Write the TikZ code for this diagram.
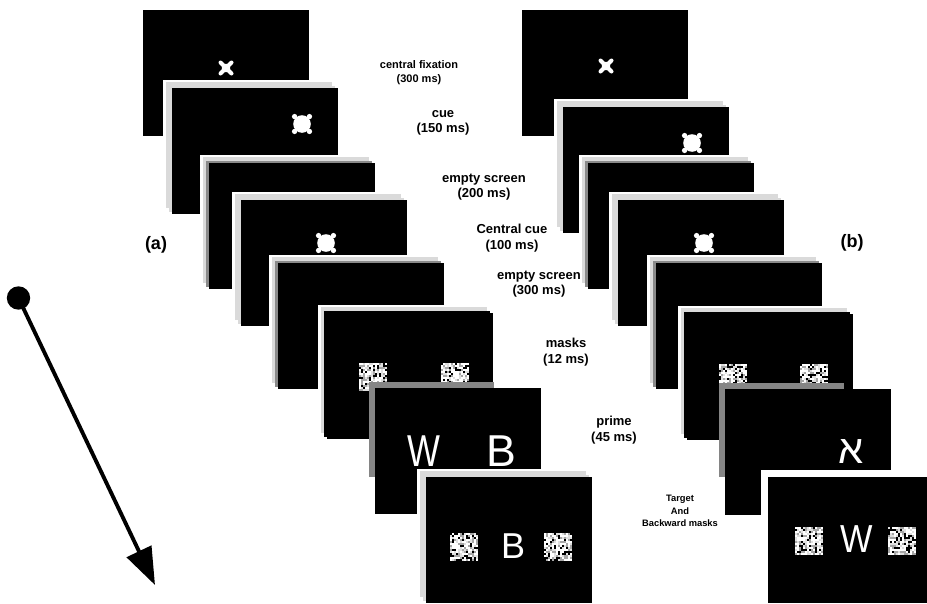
\documentclass[tikz,border=0pt]{standalone}
\usepackage{fontspec}
\setmainfont{Liberation Sans}
\newfontfamily\hebfont[Script=Hebrew]{Liberation Sans}
\usepackage{tikz}
\usetikzlibrary{arrows.meta, positioning}

\definecolor{framelt}{HTML}{DADADA}
\definecolor{framedk}{HTML}{8A8A8A}
\definecolor{primegray}{HTML}{858585}

\tikzset{
  screen/.style={fill=black, anchor=north west, inner sep=0pt,
                 minimum width=124.5pt, minimum height=94.5pt},
  steplabel/.style={font=\bfseries\fontsize{9.75}{11.5}\selectfont, align=center, inner sep=0pt},
  firstlabel/.style={font=\bfseries\fontsize{8.25}{10.5}\selectfont, align=center, inner sep=0pt},
  masklabel/.style={font=\bfseries\fontsize{7}{9.4}\selectfont, align=center, inner sep=0pt},
  panellabel/.style={font=\bfseries\fontsize{13.5}{15}\selectfont, inner sep=0pt},
  stimletter/.style={text=white, inner sep=0pt},
  startdot/.style={circle, fill=black, minimum size=17.5pt, inner sep=0pt},
  timearrow/.style={-{Triangle[length=28pt, width=20pt]}, line width=2.9pt},
}

% one display with its stacked frame (name, x, y, outer frame, inner frame)
\newcommand{\screen}[5]{%
  \fill[white] (#2-9,#3-8) rectangle ++(176,135);
  \fill[#4] (#2-6,#3-6) rectangle ++(166,126);
  \fill[#5] (#2-3,#3-2) rectangle ++(166,126);
  \node[screen] (#1) at (#2,#3) {};}

\newcommand{\fixcross}[2]{%
  \fill[white] (#1,#2) circle (3.2pt);
  \draw[white, line width=3pt, line cap=round]
    (#1-5.5,#2-5.5) -- (#1+5.5,#2+5.5) (#1-5.5,#2+5.5) -- (#1+5.5,#2-5.5);}

\newcommand{\cuedisc}[2]{%
  \fill[white] (#1,#2) circle (6.6pt);
  \foreach \ang in {45,135,225,315}
    \fill[white] (#1,#2) ++(\ang:10.5) circle (2pt);}

% random pixel mask, 28 x 28
\newcommand{\noisemask}[2]{%
  \fill[gray!45] (#1,#2) rectangle ++(28,28);
  \foreach \mi in {0,...,13}{%
    \foreach \mj in {0,...,13}{%
      \pgfmathrandominteger{\mval}{0}{4}%
      \ifnum\mval<2 \def\mcol{white}\else\ifnum\mval=2 \def\mcol{gray!25}\else\ifnum\mval=3 \def\mcol{gray!70}\else\def\mcol{black}\fi\fi\fi
      \fill[\mcol] ({#1+\mi*2},{#2+\mj*2}) rectangle ++(2.05,2.05);
    }}}

\begin{document}
\begin{tikzpicture}[x=0.75pt, y=-0.75pt]
  \useasboundingbox (0,0) rectangle (927,603);
  \pgfmathsetseed{11}

  %% ── Sequence (a), left ──────────────────────────────────────────────
  \node[screen] (a1) at (143,10) {};
  \fixcross{226}{68}

  \screen{a2}{172}{88}{framelt}{framelt}
  \cuedisc{302}{124}

  \screen{a3}{209}{163}{framelt}{framedk}

  \screen{a4}{241}{200}{framelt}{framelt}
  \cuedisc{326}{243}

  \screen{a5}{278}{263}{framelt}{framedk}

  \screen{a6}{327}{313}{framelt}{black}
  \noisemask{359}{363}
  \noisemask{441}{363}

  % prime display: dark frame, no gap
  \fill[primegray] (369,382) rectangle ++(125,95);
  \node[screen] (a7) at (375,388) {};
  \node[stimletter, xscale=0.78, font=\fontsize{33.5}{36}\selectfont] (a7w) at (424,451) {W};
  \node[stimletter, font=\fontsize{33.5}{36}\selectfont] (a7b) at (501.5,451) {B};

  \screen{a8}{426}{477}{framelt}{framelt}
  \noisemask{450}{533}
  \noisemask{544}{533}
  \node[stimletter, font=\fontsize{27}{30}\selectfont] (a8b) at (513,546) {B};

  %% ── Sequence (b), right ─────────────────────────────────────────────
  \node[screen] (b1) at (522,10) {};
  \fixcross{606}{66}

  \screen{b2}{563}{107}{framelt}{framelt}
  \cuedisc{692}{143}

  \screen{b3}{588}{163}{framelt}{framedk}

  \screen{b4}{618}{200}{framelt}{framelt}
  \cuedisc{704}{243}

  \screen{b5}{656}{263}{framelt}{framedk}

  \screen{b6}{687}{314}{framelt}{black}
  \noisemask{719}{364}
  \noisemask{800}{364}

  \fill[primegray] (719,383) rectangle ++(125,94);
  \node[screen] (b7) at (725,389) {};
  \node[stimletter, font=\hebfont\fontsize{30}{32}\selectfont] (b7alef) at (851,452) {א};

  \fill[white] (761,470) rectangle ++(175,135);
  \node[screen] (b8) at (768,477) {};
  \noisemask{795}{527}
  \noisemask{888}{527}
  \node[stimletter, xscale=0.88, font=\fontsize{29.3}{32}\selectfont] (b8w) at (856.5,539) {W};

  %% ── Timing labels ───────────────────────────────────────────────────
  \node[firstlabel] (lfix) at (419,73) {central fixation\\(300 ms)};
  \node[steplabel] (lcue) at (443,123) {cue\\(150 ms)};
  \node[steplabel] (lempty1) at (484,187) {empty screen\\(200 ms)};
  \node[steplabel] (lccue) at (512,238) {Central cue\\(100 ms)};
  \node[steplabel] (lempty2) at (539,284) {empty screen\\(300 ms)};
  \node[steplabel] (lmask) at (566,352) {masks\\(12 ms)};
  \node[steplabel] (lprime) at (614,430) {prime\\(45 ms)};
  \node[masklabel] (ltarget) at (680,511) {Target\\And\\Backward masks};

  \node[panellabel] (pa) at (156,245) {(a)};
  \node[panellabel] (pb) at (852,243) {(b)};

  %% ── Time arrow ──────────────────────────────────────────────────────
  \node[startdot] (tstart) at (18.5,298) {};
  \coordinate (tend) at (155,585);
  \draw[timearrow] (tstart.center) -- (tend);

\end{tikzpicture}
\end{document}
